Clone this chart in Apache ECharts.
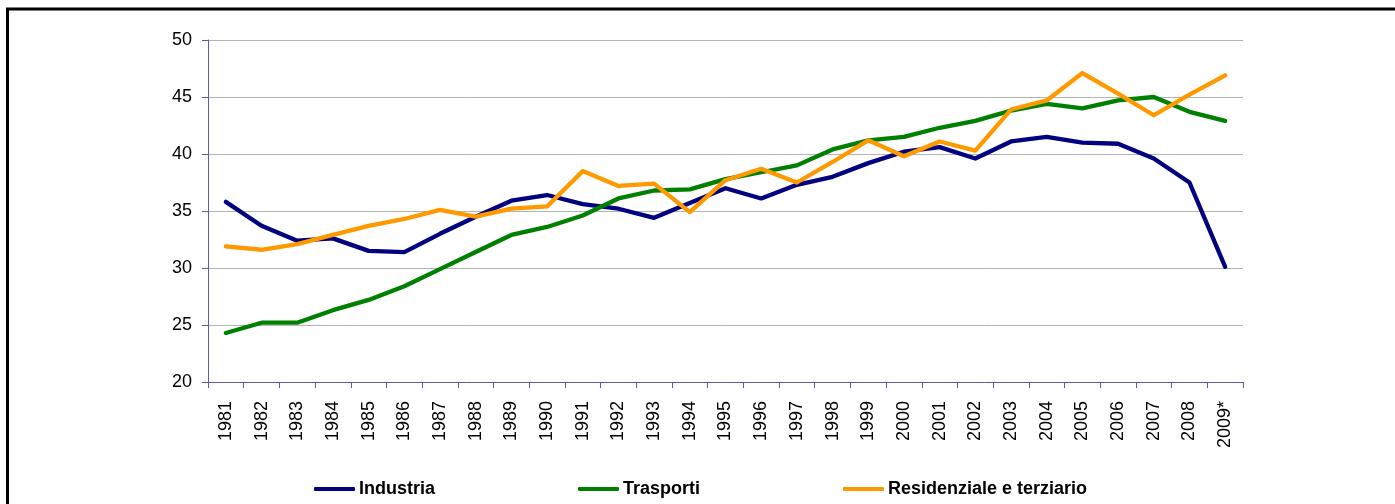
<!DOCTYPE html>
<html>
<head>
<meta charset="utf-8">
<script src="https://cdn.jsdelivr.net/npm/echarts@6/dist/echarts.min.js"></script>
<style>
  html, body { margin: 0; padding: 0; background: #fff; }
  #chart { width: 1395px; height: 504px; }
</style>
</head>
<body>
<div id="chart"></div>
<script>
// dati
const anni = ['1981', '1982', '1983', '1984', '1985', '1986', '1987', '1988', '1989', '1990',
  '1991', '1992', '1993', '1994', '1995', '1996', '1997', '1998', '1999', '2000',
  '2001', '2002', '2003', '2004', '2005', '2006', '2007', '2008', '2009*'];

const industria = [35.8, 33.7, 32.4, 32.6, 31.5, 31.4, 33.0, 34.5, 35.9, 36.4,
  35.6, 35.2, 34.4, 35.7, 37.0, 36.1, 37.3, 38.0, 39.2, 40.2,
  40.6, 39.6, 41.1, 41.5, 41.0, 40.9, 39.6, 37.5, 30.1];

const trasporti = [24.3, 25.2, 25.2, 26.3, 27.2, 28.4, 29.9, 31.4, 32.9, 33.6,
  34.6, 36.1, 36.8, 36.9, 37.8, 38.4, 39.0, 40.4, 41.2, 41.5,
  42.3, 42.9, 43.8, 44.4, 44.0, 44.7, 45.0, 43.7, 42.9];

const residenziale = [31.9, 31.6, 32.1, 32.9, 33.7, 34.3, 35.1, 34.5, 35.2, 35.4,
  38.5, 37.2, 37.4, 34.9, 37.7, 38.7, 37.5, 39.3, 41.2, 39.8,
  41.1, 40.3, 43.9, 44.7, 47.1, 45.3, 43.4, 45.2, 46.9];

const nomiSerie = ['Industria', 'Trasporti', 'Residenziale e terziario'];
const coloriSerie = ['#000080', '#008000', '#ff9900'];

const axisBlue = '#5b5bab';
const font = 'Liberation Sans, Arial, sans-serif';

const chart = echarts.init(document.getElementById('chart'));

const mkSerie = (name, data, color) => ({
  name: name,
  type: 'line',
  data: data,
  symbol: 'none',
  lineStyle: { width: 4.3, color: color, cap: 'round', join: 'round' },
  itemStyle: { color: color }
});

chart.setOption({
  animation: false,
  backgroundColor: '#fff',
  graphic: [{
    type: 'rect',
    shape: { x: 7.5, y: 9, width: 1400, height: 600 },
    style: { fill: 'none', stroke: '#000', lineWidth: 3 },
    silent: true
  }],
  grid: { left: 208, right: 152, top: 40, bottom: 122 },
  legend: {
    data: nomiSerie,
    left: 309,
    top: 475,
    itemWidth: 41,
    itemHeight: 4,
    itemGap: 143,
    icon: 'roundRect',
    textStyle: { fontFamily: font, fontSize: 18, fontWeight: 'bold', color: '#000', padding: [0, 0, 0, -1] }
  },
  xAxis: {
    type: 'category',
    data: anni,
    boundaryGap: true,
    axisLine: { lineStyle: { color: axisBlue, width: 1 } },
    axisTick: { show: true, length: 6, interval: 0, lineStyle: { color: axisBlue } },
    axisLabel: {
      interval: 0,
      rotate: 90,
      margin: 19,
      fontFamily: font,
      fontSize: 18,
      color: '#000'
    },
    splitLine: { show: false }
  },
  yAxis: {
    type: 'value',
    min: 20,
    max: 50,
    interval: 5,
    axisLine: { show: true, lineStyle: { color: axisBlue, width: 1 } },
    axisTick: { show: true, length: 6, lineStyle: { color: axisBlue } },
    axisLabel: { margin: 16, fontFamily: font, fontSize: 18, color: '#000' },
    splitLine: { show: true, lineStyle: { color: '#b4b4b4', width: 1 } }
  },
  series: [
    mkSerie(nomiSerie[0], industria, coloriSerie[0]),
    mkSerie(nomiSerie[1], trasporti, coloriSerie[1]),
    mkSerie(nomiSerie[2], residenziale, coloriSerie[2])
  ]
});
</script>
</body>
</html>
